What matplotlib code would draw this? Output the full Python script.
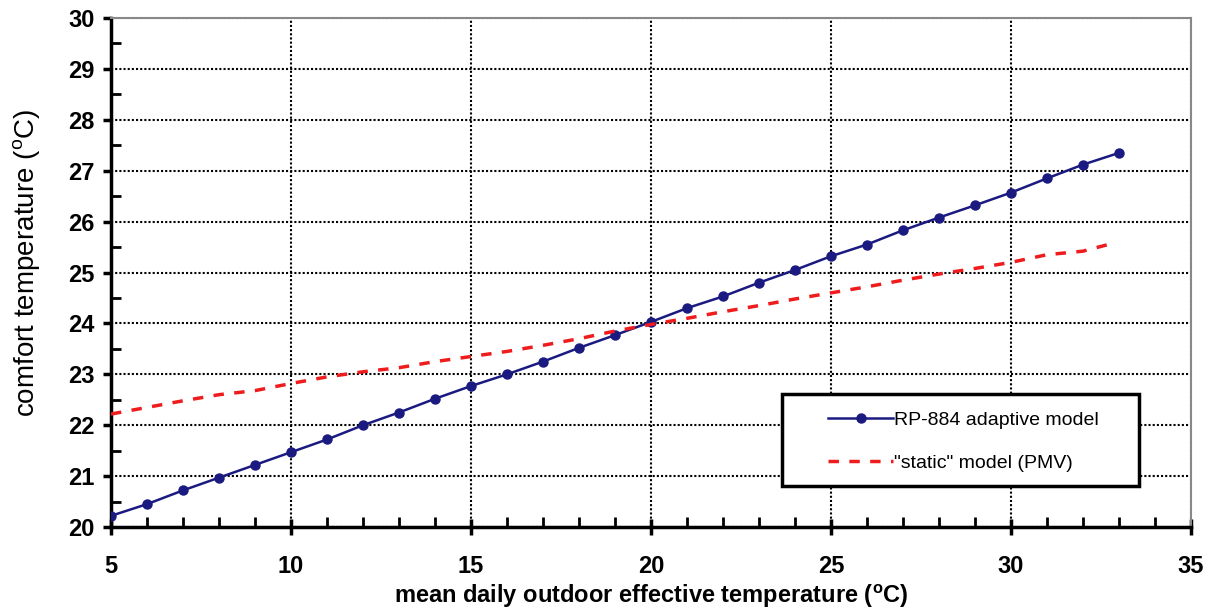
import matplotlib
matplotlib.use("Agg")
import matplotlib.pyplot as plt
from matplotlib.patches import Rectangle
from matplotlib.ticker import MultipleLocator

plt.rcParams['font.family'] = ['Liberation Sans', 'DejaVu Sans']
plt.rcParams['mathtext.fontset'] = 'custom'
plt.rcParams['mathtext.rm'] = 'Liberation Sans'
plt.rcParams['mathtext.bf'] = 'Liberation Sans:bold'

# adaptive model (RP-884)
adapt_x = [5, 6, 7, 8, 9, 10, 11, 12, 13, 14, 15, 16, 17, 18, 19, 20, 21,
           22, 23, 24, 25, 26, 27, 28, 29, 30, 31, 32, 33]
adapt_y = [20.22, 20.45, 20.72, 20.97, 21.22, 21.47, 21.72, 22.0, 22.25,
           22.52, 22.77, 23.0, 23.25, 23.52, 23.77, 24.03, 24.3, 24.53,
           24.8, 25.05, 25.32, 25.55, 25.83, 26.08, 26.32, 26.57, 26.85,
           27.12, 27.35]

# static model (PMV)
static_x = [5, 6, 7, 8, 9, 10, 11, 12, 13, 14, 15, 16, 17, 18, 19, 20, 21,
            22, 23, 24, 25, 26, 27, 28, 29, 30, 31, 32, 32.7]
static_y = [22.22, 22.35, 22.48, 22.6, 22.68, 22.82, 22.95, 23.05, 23.13,
            23.25, 23.35, 23.45, 23.57, 23.7, 23.85, 23.98, 24.1, 24.23,
            24.35, 24.48, 24.6, 24.72, 24.85, 24.97, 25.08, 25.2, 25.35,
            25.42, 25.55]

fig = plt.figure(figsize=(12.08, 6.09), dpi=100)
ax = fig.add_axes([0.0919, 0.1346, 0.894, 0.8358])

ax.plot(adapt_x, adapt_y, color='#1a1a80', lw=1.8, marker='o', ms=6.5,
        label='RP-884 adaptive model', zorder=3)
ax.plot(static_x, static_y, color='#ee1c1c', lw=2.5, dashes=(3, 3),
        label='"static" model (PMV)', zorder=3)

ax.set_xlim(5, 35)
ax.set_ylim(20, 30)
ax.xaxis.set_major_locator(MultipleLocator(5))
ax.xaxis.set_minor_locator(MultipleLocator(1))
ax.yaxis.set_major_locator(MultipleLocator(1))
ax.yaxis.set_minor_locator(MultipleLocator(0.5))

ax.grid(True, which='major', color='black', linestyle=(0, (1, 1)), lw=1.5)

for s in ['left', 'bottom']:
    ax.spines[s].set_linewidth(2.5)
    ax.spines[s].set_color('black')
for s in ['top', 'right']:
    ax.spines[s].set_linewidth(1.5)
    ax.spines[s].set_color('#888888')

ax.tick_params(axis='x', which='major', direction='inout', length=12, width=2.5,
               labelsize=17, pad=14)
ax.tick_params(axis='y', which='major', direction='out', length=6, width=2.5,
               labelsize=17, pad=6)
ax.tick_params(which='minor', direction='in', length=7, width=2)
for lbl in ax.get_xticklabels() + ax.get_yticklabels():
    lbl.set_fontweight('bold')

ax.set_xlabel(r'mean daily outdoor effective temperature ($^{\mathbf{o}}$C)',
              fontsize=17, fontweight='bold', labelpad=3)
ax.set_ylabel(r'comfort temperature ($^{\rm o}$C)', fontsize=20)
ax.yaxis.set_label_coords(-0.063, 0.52)

# legend frame (drawn separately so the handles can sit inset like the original)
ax.add_patch(Rectangle((0.6213, 0.0806), 0.3306, 0.1807, transform=ax.transAxes,
                       facecolor='white', edgecolor='black', lw=2.5, zorder=4))
leg = ax.legend(loc='center left', bbox_to_anchor=(0.6639, 0.168),
                fontsize=14, handlelength=3.35, handletextpad=0.05,
                labelspacing=1.3, borderpad=0, borderaxespad=0,
                frameon=False)
leg.set_zorder(5)

fig.savefig('out.png', dpi=100)
